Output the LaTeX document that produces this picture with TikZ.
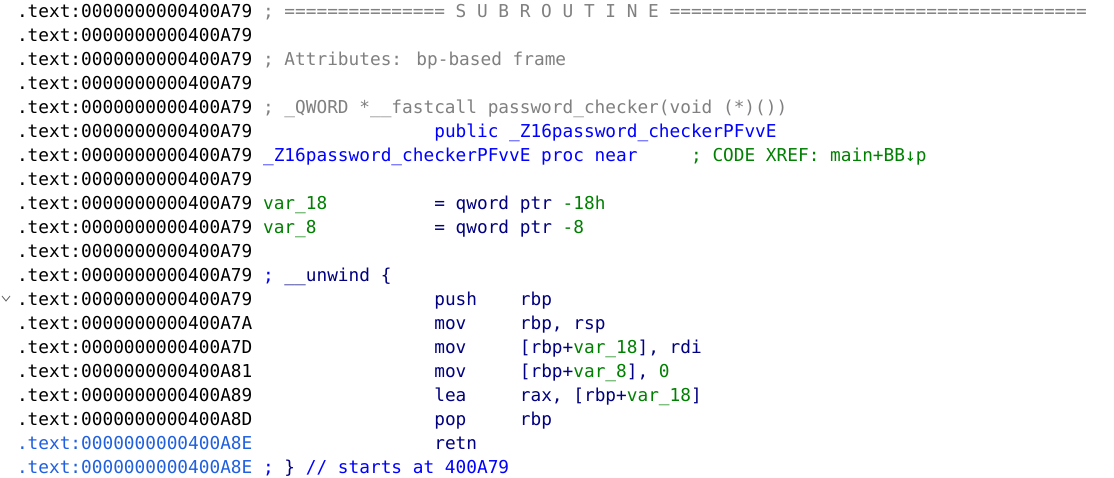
\documentclass[tikz,border=0pt]{standalone}
\usepackage{fontspec}
\newfontfamily\code[WordSpace={1,0,0}]{DejaVu Sans Mono}
\definecolor{addr}{HTML}{000000}
\definecolor{cmt}{HTML}{808080}
\definecolor{pub}{HTML}{0000FF}
\definecolor{ins}{HTML}{000080}
\definecolor{grn}{HTML}{008000}
\definecolor{lblue}{HTML}{2060E0}
\definecolor{fold}{HTML}{707070}
\newcommand{\cw}{10.7}
\newcommand{\xo}{17}
\tikzset{
  ln/.style={anchor=base west, inner sep=0pt, outer sep=0pt, font=\code\fontsize{17.77pt}{20pt}\selectfont},
}
\newcommand{\seg}[4]{\node[ln] (#1) at ({(\xo+#3*\cw)*1pt},{-(18+#2*23.95)*1pt}) {#4};}
\begin{document}
\begin{tikzpicture}
\useasboundingbox[fill=white] (0,0) rectangle (1114pt,-478pt);
% addresses
\seg{a0}{0}{0}{\color{addr}.text:0000000000400A79}
\seg{a1}{1}{0}{\color{addr}.text:0000000000400A79}
\seg{a2}{2}{0}{\color{addr}.text:0000000000400A79}
\seg{a3}{3}{0}{\color{addr}.text:0000000000400A79}
\seg{a4}{4}{0}{\color{addr}.text:0000000000400A79}
\seg{a5}{5}{0}{\color{addr}.text:0000000000400A79}
\seg{a6}{6}{0}{\color{addr}.text:0000000000400A79}
\seg{a7}{7}{0}{\color{addr}.text:0000000000400A79}
\seg{a8}{8}{0}{\color{addr}.text:0000000000400A79}
\seg{a9}{9}{0}{\color{addr}.text:0000000000400A79}
\seg{a10}{10}{0}{\color{addr}.text:0000000000400A79}
\seg{a11}{11}{0}{\color{addr}.text:0000000000400A79}
\seg{a12}{12}{0}{\color{addr}.text:0000000000400A79}
\seg{a13}{13}{0}{\color{addr}.text:0000000000400A7A}
\seg{a14}{14}{0}{\color{addr}.text:0000000000400A7D}
\seg{a15}{15}{0}{\color{addr}.text:0000000000400A81}
\seg{a16}{16}{0}{\color{addr}.text:0000000000400A89}
\seg{a17}{17}{0}{\color{addr}.text:0000000000400A8D}
\seg{a18}{18}{0}{\color{lblue}.text:0000000000400A8E}
\seg{a19}{19}{0}{\color{lblue}.text:0000000000400A8E}
% header comments
\seg{c0}{0}{23}{\color{cmt}; =============== S U B R O U T I N E =======================================}
\seg{c2}{2}{23}{\color{cmt}; Attributes: bp-based frame}
\seg{c4}{4}{23}{\color{cmt}; \_QWORD *\_\_fastcall password\_checker(void (*)())}
\seg{c5}{5}{39}{\color{pub}public \_Z16password\_checkerPFvvE}
\seg{c6}{6}{23}{\color{pub}\_Z16password\_checkerPFvvE proc near}
\seg{x6}{6}{63}{\color{grn}; CODE XREF: main+BB↓p}
% stack vars
\seg{v8}{8}{23}{\color{grn}var\_18}
\seg{q8}{8}{39}{\color{ins}= qword ptr {\color{grn}-18h}}
\seg{v9}{9}{23}{\color{grn}var\_8}
\seg{q9}{9}{39}{\color{ins}= qword ptr {\color{grn}-8}}
\seg{u11}{11}{23}{{\color{pub};} \color{ins}\_\_unwind \{}
% instructions
\seg{m12}{12}{39}{\color{ins}push}
\seg{o12}{12}{47}{\color{ins}rbp}
\seg{m13}{13}{39}{\color{ins}mov}
\seg{o13}{13}{47}{\color{ins}rbp, rsp}
\seg{m14}{14}{39}{\color{ins}mov}
\seg{o14}{14}{47}{\color{ins}[rbp+{\color{grn}var\_18}], rdi}
\seg{m15}{15}{39}{\color{ins}mov}
\seg{o15}{15}{47}{\color{ins}[rbp+{\color{grn}var\_8}], {\color{grn}0}}
\seg{m16}{16}{39}{\color{ins}lea}
\seg{o16}{16}{47}{\color{ins}rax, [rbp+{\color{grn}var\_18}]}
\seg{m17}{17}{39}{\color{ins}pop}
\seg{o17}{17}{47}{\color{ins}rbp}
\seg{m18}{18}{39}{\color{ins}retn}
\seg{e19}{19}{23}{\color{pub}; {\color{ins}\}} // starts at 400A79}
% fold marker
\draw[fold, line width=0.9pt] (2pt,-296pt) -- (6pt,-301pt) -- (10pt,-296pt);
\end{tikzpicture}
\end{document}
